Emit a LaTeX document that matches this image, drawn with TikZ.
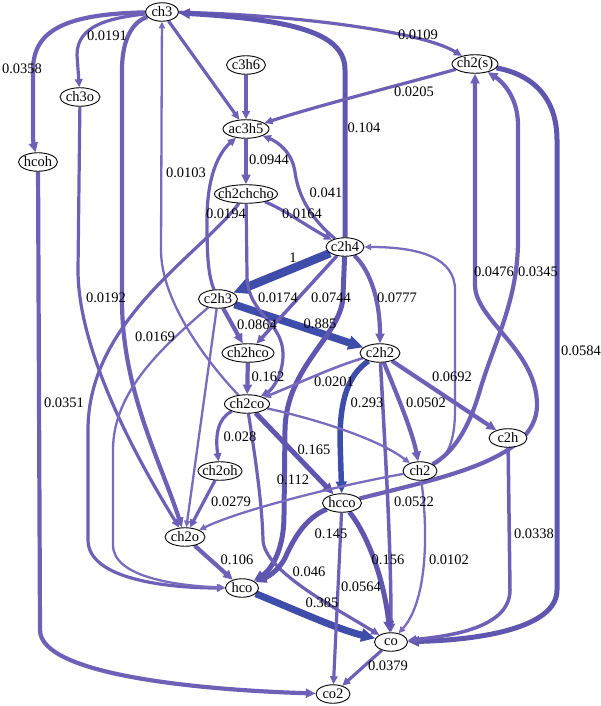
\documentclass[tikz,border=0pt]{standalone}
\usepackage{fontspec}
\setmainfont{Liberation Serif}
\usetikzlibrary{shapes.geometric,arrows.meta,backgrounds}
\definecolor{ca}{RGB}{122,107,190}
\definecolor{cb}{RGB}{110,96,182}
\definecolor{cc}{RGB}{96,86,176}
\definecolor{cd}{RGB}{62,76,170}
\tikzset{
  nd/.style={ellipse, draw=black, line width=0.9pt, fill=white, inner xsep=-8pt, inner ysep=-4pt, minimum height=18.5pt, font=\fontsize{14.5}{15}\selectfont},
  lab/.style={inner sep=0pt, font=\fontsize{14.5}{15}\selectfont},
  e/.style={draw=#1, -{Triangle[length=3pt 1.6, width=3pt 1.4]}},
  et/.style={e=ca, line width=2.3pt},
  em/.style={e=cb, line width=3.2pt},
  el/.style={e=cb, line width=4.2pt},
  ex/.style={e=cc, line width=5pt},
  ed/.style={e=cd, line width=#1},
}
\begin{document}
\begin{tikzpicture}[x=1pt,y=-1pt]
\useasboundingbox (0,0) rectangle (600,706);
% nodes
\node[nd, minimum width=33pt] (ch3) at (162,12) {ch3};
\node[nd, minimum width=39pt] (c3h6) at (246,65) {c3h6};
\node[nd, minimum width=46pt] (ch2s) at (475,64) {ch2(s)};
\node[nd, minimum width=40pt] (ch3o) at (80,97) {ch3o};
\node[nd, minimum width=46pt] (ac3h5) at (246,129) {ac3h5};
\node[nd, minimum width=39pt] (hcoh) at (38,162) {hcoh};
\node[nd, minimum width=63pt] (ch2chcho) at (246,194) {ch2chcho};
\node[nd, minimum width=38pt] (c2h4) at (345,247) {c2h4};
\node[nd, minimum width=39pt] (c2h3) at (218,299) {c2h3};
\node[nd, minimum width=52pt] (ch2hco) at (248,353) {ch2hco};
\node[nd, minimum width=40pt] (c2h2) at (380,353) {c2h2};
\node[nd, minimum width=45pt] (ch2co) at (247,404) {ch2co};
\node[nd, minimum width=38pt] (c2h) at (508,438) {c2h};
\node[nd, minimum width=34pt] (ch2) at (420,471) {ch2};
\node[nd, minimum width=44pt] (ch2oh) at (220,471) {ch2oh};
\node[nd, minimum width=39pt] (hcco) at (342,503) {hcco};
\node[nd, minimum width=40pt] (ch2o) at (185,537) {ch2o};
\node[nd, minimum width=33pt] (hco) at (242,588) {hco};
\node[nd, minimum width=33pt] (co) at (391,642) {co};
\node[nd, minimum width=34pt] (co2) at (333,694) {co2};
% edges
\begin{scope}[on background layer]
\draw[el] (ch3) .. controls (70,14) and (33,28) .. (33,70) -- (33,135) .. controls (33,145) and (35,150) .. (hcoh);
\draw[em] (ch3) .. controls (110,18) and (77,25) .. (77,55) -- (ch3o);
\draw[em] (ch3) .. controls (280,14) and (420,30) .. (ch2s);
\draw[ex] (c2h4) -- (345,70) .. controls (345,35) and (300,20) .. (ch3);
\draw[em] (ch2s) .. controls (400,85) and (320,105) .. (ac3h5);
\draw[em] (c3h6) -- (ac3h5);
\draw[em] (ch3) -- (ac3h5);
\draw[el] (ac3h5) -- (ch2chcho);
\draw[et] (ch2co) .. controls (205,360) and (161,300) .. (161,250) -- (ch3);
\draw[el] (ch3) .. controls (132,22) and (122,40) .. (122,70) -- (122,300) .. controls (122,390) and (160,460) .. (ch2o);
\draw[em] (ch3o) -- (78,270) .. controls (78,360) and (150,480) .. (ch2o);
\draw[el] (hcoh) -- (40,630) .. controls (40,675) and (200,690) .. (co2);
\draw[em] (c2h4) .. controls (310,218) and (298,195) .. (295,172) .. controls (292,152) and (278,142) .. (ac3h5);
\draw[em] (ch2chcho) .. controls (285,210) and (305,225) .. (c2h4);
\draw[em] (ch2chcho) .. controls (200,255) and (88,320) .. (88,430) -- (88,540) .. controls (88,580) and (170,588) .. (hco);
\draw[et] (c2h3) .. controls (165,345) and (113,390) .. (113,450) -- (113,545) .. controls (113,578) and (180,586) .. (hco);
\draw[ed=8.5pt] (c2h4) -- (c2h3);
\draw[ed=7.5pt] (c2h3) -- (c2h2);
\draw[em] (c2h3) .. controls (208,275) and (207,255) .. (207,220) .. controls (207,170) and (222,150) .. (ac3h5);
\draw[el] (c2h3) -- (ch2hco);
\draw[et] (c2h3) -- (ch2o);
\draw[em] (ch2chcho) -- (247,275) .. controls (247,315) and (283,320) .. (283,355) .. controls (283,375) and (272,390) .. (ch2co);
\draw[el] (c2h4) .. controls (370,270) and (380,300) .. (c2h2);
\draw[et] (ch2) .. controls (448,458) and (455,440) .. (455,410) -- (455,290) .. controls (455,258) and (420,247) .. (c2h4);
\draw[e=cb, line width=3.5pt] (c2h4) -- (ch2hco);
\draw[ex] (c2h4) -- (343,295) .. controls (343,335) and (286,365) .. (285,430) -- (284,515) .. controls (284,555) and (268,572) .. (hco);
\draw[el] (ch2hco) -- (ch2co);
\draw[e=ca, line width=2.6pt] (c2h2) .. controls (330,368) and (295,385) .. (ch2co);
\draw[ed=5.5pt] (c2h2) .. controls (348,375) and (340,400) .. (340,440) -- (hcco);
\draw[el] (c2h2) .. controls (395,390) and (412,430) .. (ch2);
\draw[el] (c2h2) -- (c2h);
\draw[e=cb, line width=3.5pt] (c2h2) .. controls (385,450) and (391,540) .. (co);
\draw[em] (ch2co) .. controls (218,418) and (215,435) .. (ch2oh);
\draw[ex] (ch2co) -- (hcco);
\draw[em] (ch2co) .. controls (254,450) and (262,500) .. (263,540) .. controls (264,570) and (330,605) .. (co);
\draw[et] (ch2co) .. controls (320,420) and (380,440) .. (ch2);
\draw[et] (ch2) .. controls (340,485) and (240,510) .. (ch2o);
\draw[em] (ch2oh) -- (ch2o);
\draw[el] (ch2o) -- (hco);
\draw[ed=7pt] (hco) .. controls (300,612) and (340,630) .. (co);
\draw[ex] (hcco) .. controls (305,518) and (293,540) .. (285,558) .. controls (278,572) and (265,578) .. (hco);
\draw[ex] (hcco) .. controls (368,535) and (384,580) .. (co);
\draw[em] (hcco) -- (co2);
\draw[em] (co) -- (co2);
\draw[el] (hcco) .. controls (440,478) and (537,460) .. (537,405) .. controls (537,350) and (475,320) .. (475,285) -- (ch2s);
\draw[el] (ch2) .. controls (455,452) and (470,425) .. (480,390) .. controls (495,340) and (518,300) .. (518,240) -- (518,125) .. controls (518,95) and (500,80) .. (ch2s);
\draw[ex] (ch2s) .. controls (535,75) and (557,100) .. (557,140) -- (557,590) .. controls (557,628) and (480,640) .. (co);
\draw[e=cb, line width=3.5pt] (c2h) -- (510,590) .. controls (510,628) and (450,636) .. (co);
\draw[et] (ch2) .. controls (428,530) and (428,600) .. (co);
\end{scope}
% labels
\node[lab] (l01) at (22,69) {0.0358};
\node[lab] (l02) at (107,36) {0.0191};
\node[lab] (l03) at (418,35) {0.0109};
\node[lab] (l04) at (414,92) {0.0205};
\node[lab] (l05) at (364,128) {0.104};
\node[lab] (l06) at (269,160) {0.0944};
\node[lab] (l07) at (186,173) {0.0103};
\node[lab] (l08) at (326,193) {0.041};
\node[lab] (l09) at (226,214) {0.0194};
\node[lab] (l10) at (302,214) {0.0164};
\node[lab] (l11) at (293,258) {1};
\node[lab] (l12) at (278,298) {0.0174};
\node[lab] (l13) at (331,298) {0.0744};
\node[lab] (l14) at (397,298) {0.0777};
\node[lab] (l15) at (494,272) {0.0476};
\node[lab] (l16) at (538,272) {0.0345};
\node[lab] (l17) at (106,298) {0.0192};
\node[lab] (l18) at (155,337) {0.0169};
\node[lab] (l19) at (257,325) {0.0864};
\node[lab] (l20) at (320,324) {0.885};
\node[lab] (l21) at (581,351) {0.0584};
\node[lab] (l22) at (268,377) {0.162};
\node[lab] (l23) at (334,382) {0.0201};
\node[lab] (l24) at (452,377) {0.0692};
\node[lab] (l25) at (367,403) {0.293};
\node[lab] (l26) at (426,403) {0.0502};
\node[lab] (l27) at (64,403) {0.0351};
\node[lab] (l28) at (240,437) {0.028};
\node[lab] (l29) at (314,450) {0.165};
\node[lab] (l30) at (231,502) {0.0279};
\node[lab] (l31) at (293,480) {0.112};
\node[lab] (l32) at (414,502) {0.0522};
\node[lab] (l33) at (331,534) {0.145};
\node[lab] (l34) at (534,534) {0.0338};
\node[lab] (l35) at (388,560) {0.156};
\node[lab] (l36) at (449,560) {0.0102};
\node[lab] (l37) at (237,560) {0.106};
\node[lab] (l38) at (309,572) {0.046};
\node[lab] (l39) at (361,587) {0.0564};
\node[lab] (l40) at (322,603) {0.385};
\node[lab] (l41) at (388,666) {0.0379};
\end{tikzpicture}
\end{document}
